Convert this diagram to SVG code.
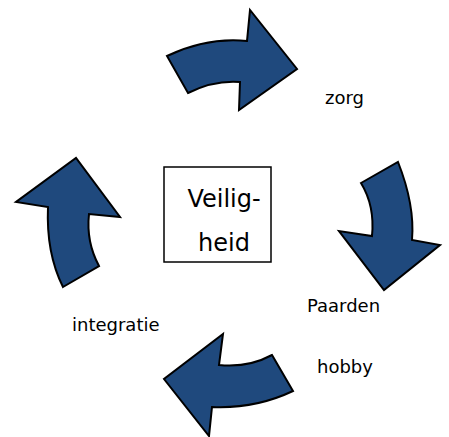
<svg xmlns="http://www.w3.org/2000/svg" width="449" height="437" viewBox="0 0 449 437">
<style>
.arrow{fill:#1F497D;stroke:#000;stroke-width:2;stroke-linejoin:miter}
.box{fill:#fff;stroke:#000;stroke-width:1.5}
.lbl{font-family:"DejaVu Sans","Liberation Sans",sans-serif;font-size:18px;fill:#000}
.big{font-family:"DejaVu Sans","Liberation Sans",sans-serif;font-size:24px;fill:#000;text-anchor:middle}
</style>
<rect width="449" height="437" fill="#fff"/>
<g id="connectors">
<path id="arrow-top" class="arrow" d="M167,56 Q207,37 247,41 L250,10 L297,69 L239,110 L240,82 Q214,80 188,93 Z"/>
<path id="arrow-right" class="arrow" d="M361,183 L398,162 Q415,205 412,240 L440,245 L384,290 L339,231 L372,236 Q375,206 361,183 Z"/>
<path id="arrow-bottom" class="arrow" d="M272,355 L293,391 Q255,409 212,407 L209,436 L164,379 L223,334 L219,365 Q248,368 272,355 Z"/>
<path id="arrow-left" class="arrow" d="M63,287 L99,266 Q86,242 89,214 L120,217 L76,158 L16,202 L48,207 Q46,253 63,287 Z"/>
</g>
<g id="center">
<rect class="box" x="164" y="167" width="107" height="95"/>
<text class="big" x="224" y="207">Veilig-</text>
<text class="big" x="224" y="251">heid</text>
</g>
<g id="zorg"><text class="lbl" x="325" y="104">zorg</text></g>
<g id="paarden"><text class="lbl" x="307" y="312">Paarden</text></g>
<g id="hobby"><text class="lbl" x="317" y="373">hobby</text></g>
<g id="integratie"><text class="lbl" x="72" y="331">integratie</text></g>
</svg>
